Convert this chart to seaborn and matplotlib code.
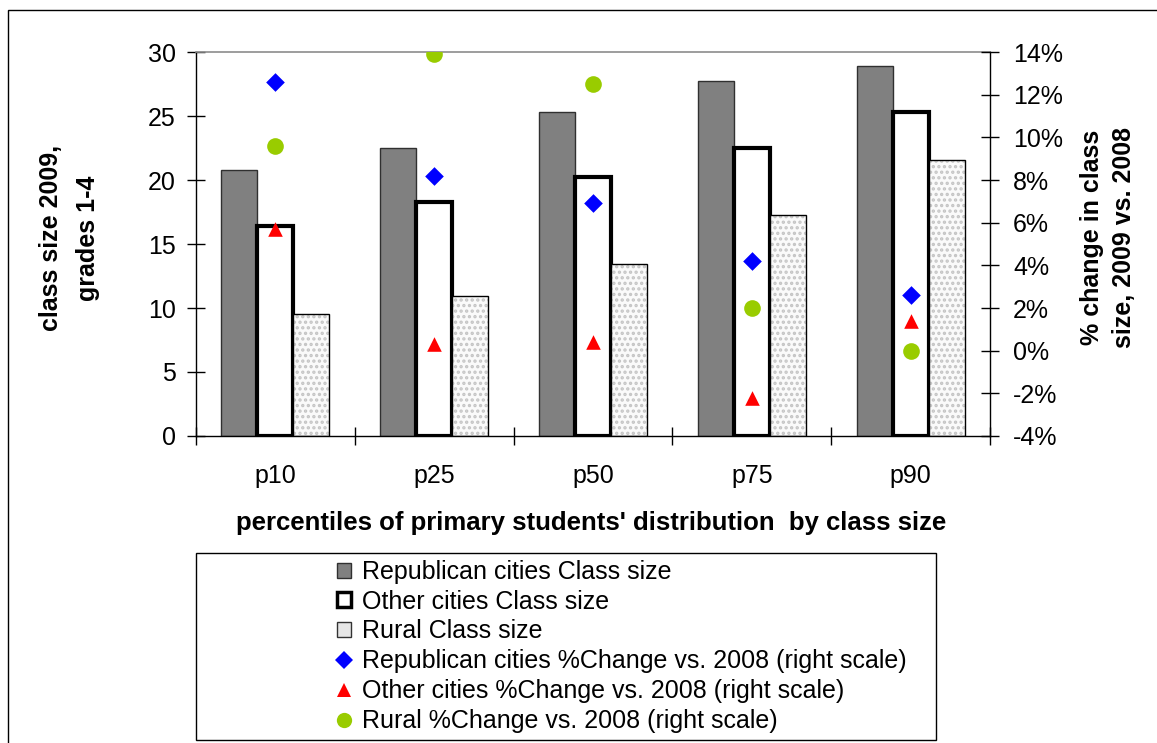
import matplotlib
matplotlib.use('Agg')
import matplotlib.pyplot as plt
import matplotlib.colors as mcolors
import seaborn as sns
import pandas as pd
import numpy as np
from matplotlib.patches import Rectangle, Patch
from matplotlib.lines import Line2D

categories = ['p10', 'p25', 'p50', 'p75', 'p90']
rep_size = [20.8, 22.5, 25.3, 27.7, 28.9]
oth_size = [16.4, 18.3, 20.2, 22.5, 25.3]
rur_size = [9.5, 10.9, 13.4, 17.3, 21.6]
rep_chg = [12.6, 8.2, 6.9, 4.2, 2.6]
oth_chg = [5.7, 0.3, 0.4, -2.2, 1.4]
rur_chg = [9.6, 13.9, 12.5, 2.0, 0.0]
bar_series = ['Republican cities Class size', 'Other cities Class size', 'Rural Class size']
pt_series = ['Republican cities %Change vs. 2008 (right scale)',
             'Other cities %Change vs. 2008 (right scale)',
             'Rural %Change vs. 2008 (right scale)']
left_ticks = [0, 5, 10, 15, 20, 25, 30]
right_ticks = [-4, -2, 0, 2, 4, 6, 8, 10, 12, 14]

sns.set_theme(style='white')
plt.rcParams['font.family'] = ['Liberation Sans', 'DejaVu Sans']
plt.rcParams['hatch.linewidth'] = 1.6

W, H = 1157, 743
fig = plt.figure(figsize=(W / 100, H / 100), dpi=100)
fig.patch.set_facecolor('white')
L, R, T, B = 196, 990, 52, 436
ax = fig.add_axes([L / W, 1 - B / H, (R - L) / W, (B - T) / H])

df = pd.DataFrame({
    'cat': categories * 3,
    'series': np.repeat(bar_series, len(categories)),
    'val': rep_size + oth_size + rur_size,
})
sns.barplot(data=df, x='cat', y='val', hue='series', hue_order=bar_series,
            palette=['#808080', '#ffffff', '#fafafa'], width=0.68, saturation=1,
            errorbar=None, legend=False, ax=ax)

rep_c, oth_c, rur_c = ax.containers[0], ax.containers[1], ax.containers[2]
for p in rep_c:
    p.set_edgecolor('#303030'); p.set_linewidth(1.0)
for p in oth_c:
    p.set_edgecolor('black'); p.set_linewidth(3.0)
for p in rur_c:
    p.set_edgecolor('black'); p.set_linewidth(1.0)
    p.set_hatch('...')
    p._hatch_color = mcolors.to_rgba('#c4c4c4')

ax.set_ylim(0, 30)
ax.set_yticks(left_ticks)
ax.set_xlim(-0.5, len(categories) - 0.5)

ax2 = ax.twinx()
marker_specs = [(rep_chg, 'D', '#0000ff', 9.5), (oth_chg, '^', '#ff0000', 10.5), (rur_chg, 'o', '#99cc00', 12)]
for vals, m, c, s in marker_specs:
    sns.stripplot(x=categories, y=vals, jitter=False, marker=m, color=c, size=s,
                  linewidth=0, ax=ax2, zorder=5)
ax2.set_ylim(-4, 14)
ax2.set_yticks(right_ticks)
ax2.set_yticklabels([f'{t}%' for t in right_ticks])
ax.set_xlim(-0.5, len(categories) - 0.5)

fs = 18
ax.set_xticks(range(len(categories)))
ax.set_xticklabels(categories, fontsize=fs)
ax.set_xticks(np.arange(len(categories) + 1) - 0.5, minor=True)
ax.tick_params(axis='x', which='major', length=0, pad=20, colors='black')
ax.tick_params(axis='x', which='minor', direction='inout', length=13, width=1, color='black', bottom=True)
ax.tick_params(axis='y', which='major', direction='inout', length=13, width=1, color='black',
               labelsize=fs, labelcolor='black', left=True, pad=8)
ax2.tick_params(axis='y', which='major', direction='inout', length=13, width=1, color='black',
                labelsize=fs, labelcolor='black', right=True, pad=10)

for a in (ax, ax2):
    for s in a.spines.values():
        s.set_visible(False)
ax.spines['left'].set_visible(True); ax.spines['left'].set_color('black'); ax.spines['left'].set_linewidth(1)
ax.spines['bottom'].set_visible(True); ax.spines['bottom'].set_color('black'); ax.spines['bottom'].set_linewidth(1)
ax.spines['top'].set_visible(True); ax.spines['top'].set_color('#8c8c8c'); ax.spines['top'].set_linewidth(1.2)
ax2.spines['right'].set_visible(True); ax2.spines['right'].set_color('black'); ax2.spines['right'].set_linewidth(1)
ax.grid(False); ax2.grid(False)

ax.set_ylabel('class size 2009,\ngrades 1-4', fontsize=fs, fontweight='bold', color='black', linespacing=1.7)
ax.yaxis.set_label_coords(-0.121, 0.516)
ax2.set_ylabel('% change in class\nsize, 2009 vs. 2008', fontsize=fs, fontweight='bold', color='black', linespacing=1.45)
ax2.yaxis.set_label_coords(1.113, 0.516)
ax.set_xlabel("percentiles of primary students' distribution  by class size", fontsize=18.5,
              fontweight='bold', color='black')
ax.xaxis.set_label_coords(0.498, -0.195)

# legend
handles = [
    Patch(facecolor='#808080', edgecolor='#303030', linewidth=1.0),
    Patch(facecolor='white', edgecolor='black', linewidth=2.5),
    Patch(facecolor='#e6e6e6', edgecolor='#333333', linewidth=1.0),
    Line2D([], [], linestyle='none', marker='D', color='#0000ff', markersize=9, markeredgewidth=0),
    Line2D([], [], linestyle='none', marker='^', color='#ff0000', markersize=10, markeredgewidth=0),
    Line2D([], [], linestyle='none', marker='o', color='#99cc00', markersize=11, markeredgewidth=0),
]
leg = fig.legend(handles, bar_series + pt_series, loc='upper left',
                 bbox_to_anchor=(337 / W, 1 - 560 / H), frameon=False, fontsize=fs,
                 handlelength=0.55, handleheight=0.55, handletextpad=0.45, labelspacing=0.23,
                 borderaxespad=0, borderpad=0)
for t in leg.get_texts():
    t.set_color('black')

fig.patches.append(Rectangle((L / W, 1 - 740 / H), (936 - L) / W, (740 - 553) / H,
                             transform=fig.transFigure, fill=False, edgecolor='black', linewidth=1))
fig.patches.append(Rectangle((8 / W, -0.05), 1.2, 1.05 - 10 / H,
                             transform=fig.transFigure, fill=False, edgecolor='black', linewidth=1))

fig.savefig('out.png', dpi=100)
